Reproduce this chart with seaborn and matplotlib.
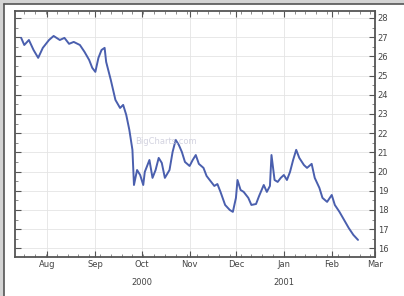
import matplotlib
matplotlib.use("Agg")
import matplotlib.pyplot as plt
import matplotlib.dates as mdates
from matplotlib.patches import Rectangle
import pandas as pd
import seaborn as sns

dates = ["2000-07-15", "2000-07-17", "2000-07-20", "2000-07-23", "2000-07-26", "2000-07-29",
         "2000-08-02", "2000-08-05", "2000-08-09", "2000-08-12", "2000-08-15", "2000-08-18",
         "2000-08-22", "2000-08-25", "2000-08-28", "2000-08-30", "2000-09-01", "2000-09-03",
         "2000-09-05", "2000-09-07", "2000-09-08", "2000-09-11", "2000-09-14", "2000-09-17",
         "2000-09-19", "2000-09-21", "2000-09-23", "2000-09-25", "2000-09-26", "2000-09-28",
         "2000-09-30", "2000-10-02", "2000-10-03", "2000-10-06", "2000-10-08", "2000-10-10",
         "2000-10-12", "2000-10-14", "2000-10-16", "2000-10-19", "2000-10-21", "2000-10-23",
         "2000-10-25", "2000-10-27", "2000-10-29", "2000-11-01", "2000-11-03", "2000-11-05",
         "2000-11-07", "2000-11-10", "2000-11-12", "2000-11-14", "2000-11-17", "2000-11-19",
         "2000-11-21", "2000-11-24", "2000-11-27", "2000-11-29", "2000-12-01", "2000-12-02",
         "2000-12-04", "2000-12-06", "2000-12-09", "2000-12-11", "2000-12-14", "2000-12-16",
         "2000-12-19", "2000-12-21", "2000-12-23", "2000-12-24", "2000-12-26", "2000-12-28",
         "2000-12-30", "2001-01-01", "2001-01-03", "2001-01-05", "2001-01-07", "2001-01-09",
         "2001-01-11", "2001-01-14", "2001-01-16", "2001-01-19", "2001-01-21", "2001-01-24",
         "2001-01-26", "2001-01-29", "2001-02-01", "2001-02-03", "2001-02-06", "2001-02-09",
         "2001-02-12", "2001-02-15", "2001-02-18"]
prices = [26.96, 26.59, 26.85, 26.33, 25.92, 26.44,
          26.85, 27.06, 26.85, 26.96, 26.65, 26.75,
          26.59, 26.23, 25.81, 25.40, 25.19, 25.92,
          26.33, 26.44, 25.71, 24.77, 23.73, 23.31,
          23.47, 22.95, 22.17, 21.13, 19.30, 20.08,
          19.82, 19.30, 19.98, 20.60, 19.67, 20.08,
          20.71, 20.45, 19.67, 20.08, 21.02, 21.65,
          21.39, 21.02, 20.50, 20.29, 20.60, 20.86,
          20.40, 20.19, 19.77, 19.56, 19.25, 19.35,
          18.94, 18.26, 18.00, 17.90, 18.63, 19.56,
          19.04, 18.94, 18.63, 18.26, 18.31, 18.73,
          19.30, 18.94, 19.25, 20.86, 19.56, 19.46,
          19.67, 19.82, 19.56, 19.98, 20.60, 21.13,
          20.71, 20.34, 20.19, 20.40, 19.67, 19.15,
          18.63, 18.42, 18.78, 18.26, 17.90, 17.48,
          17.06, 16.70, 16.44]
y_ticks = [16, 17, 18, 19, 20, 21, 22, 23, 24, 25, 26, 27, 28]
month_labels = ["Aug", "Sep", "Oct", "Nov", "Dec", "Jan", "Feb", "Mar"]
month_starts = ["2000-08-01", "2000-09-01", "2000-10-01", "2000-11-01", "2000-12-01",
                "2001-01-01", "2001-02-01", "2001-03-01"]
year_labels = ["2000", "2001"]
year_positions = ["2000-10-01", "2001-01-01"]

df = pd.DataFrame({"date": pd.to_datetime(dates), "price": prices})

sns.set_style("white")
fig = plt.figure(figsize=(4.04, 2.96), dpi=100)
fig.patch.set_facecolor("white")
# gray strip along the top and left edges, with a dark inner edge
fig.patches.append(Rectangle((0, 1 - 4 / 296), 1, 4 / 296, transform=fig.transFigure,
                             facecolor="#d4d4d4", edgecolor="none", zorder=-5))
fig.patches.append(Rectangle((0, 0), 4 / 404, 1, transform=fig.transFigure,
                             facecolor="#d4d4d4", edgecolor="none", zorder=-5))
fig.lines.append(plt.Line2D([4 / 404, 4 / 404], [0, 1 - 4 / 296], transform=fig.transFigure,
                            color="#555555", lw=1.2, zorder=-4))
fig.lines.append(plt.Line2D([4 / 404, 1], [1 - 4 / 296, 1 - 4 / 296], transform=fig.transFigure,
                            color="#555555", lw=1.2, zorder=-4))

ax = fig.add_axes([15 / 404, 1 - 257 / 296, 360 / 404, 246 / 296])
ax.set_facecolor("white")
sns.lineplot(data=df, x="date", y="price", ax=ax, color="#4a5fae", linewidth=1.4)

ax.set_xlim(pd.Timestamp("2000-07-11"), pd.Timestamp("2001-03-01"))
ax.set_ylim(15.55, 28.36)

ax.yaxis.tick_right()
ax.set_yticks(y_ticks)
ax.set_yticklabels([str(v) for v in y_ticks], fontsize=6, color="#444444")
ax.set_xticks(pd.to_datetime(month_starts))
ax.set_xticklabels(month_labels, fontsize=6, color="#444444")
ax.xaxis.set_minor_locator(mdates.WeekdayLocator(byweekday=mdates.MO))
ax.yaxis.set_minor_locator(matplotlib.ticker.MultipleLocator(0.5))
ax.tick_params(axis="both", which="major", direction="in", length=4, width=0.8,
               color="#555555", top=True, bottom=True, left=True, right=True, pad=2)
ax.tick_params(axis="both", which="minor", direction="in", length=2, width=0.6,
               color="#777777", top=True, bottom=True, left=True, right=True)
ax.set_xlabel("")
ax.set_ylabel("")
ax.grid(True, which="major", color="#e4e4e4", linewidth=0.6)
for s in ax.spines.values():
    s.set_color("#555555")
    s.set_linewidth(1.3)

for lab, pos in zip(year_labels, year_positions):
    ax.text(pd.Timestamp(pos), -0.085, lab, transform=ax.get_xaxis_transform(),
            ha="center", va="top", fontsize=6, color="#444444")

ax.text(0.42, 0.47, "BigCharts.com", transform=ax.transAxes, ha="center", va="center",
        fontsize=6, color="#c8c8d8", alpha=0.8)

fig.savefig("out.png", dpi=100, facecolor=fig.get_facecolor())
